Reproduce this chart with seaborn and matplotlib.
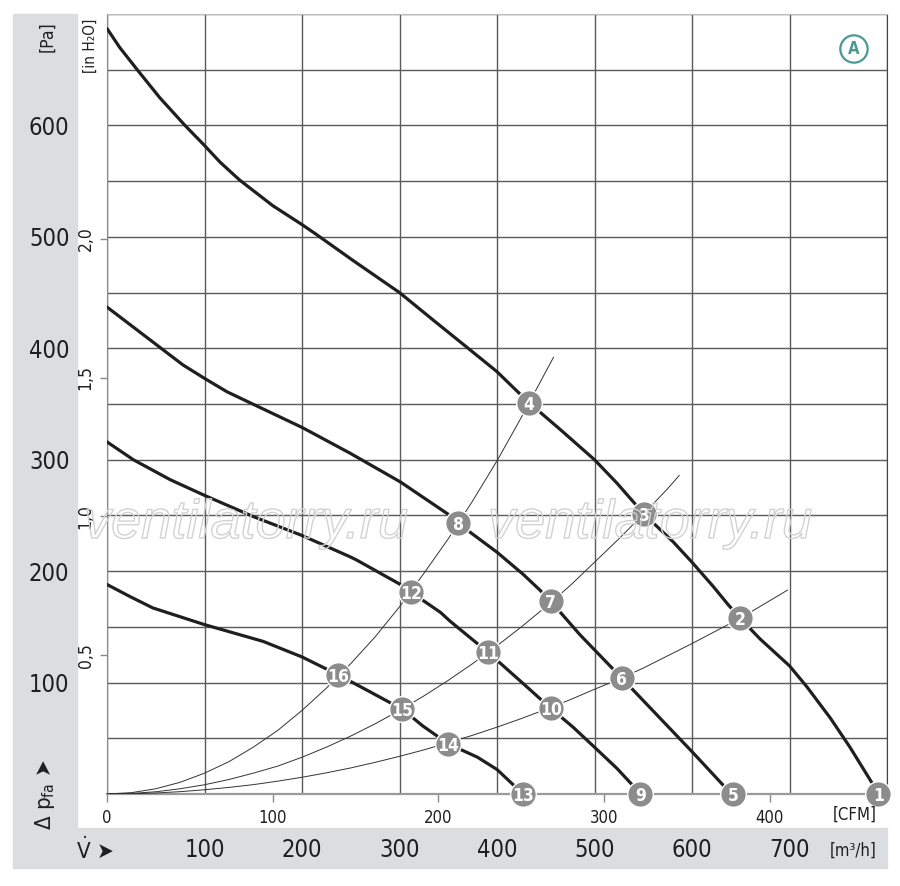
import numpy as np
import matplotlib
matplotlib.use("Agg")
import matplotlib.pyplot as plt
import matplotlib.patches as mpatches
import matplotlib.patheffects as pe
import seaborn as sns

# ── DATA (flow in m³/h, pressure in Pa) ───────────────────────────────────────
# fan curves, top to bottom
Q_A = [0, 13, 31, 54, 80, 100, 116, 136, 170, 200, 215, 252, 300, 335, 369, 400,
       433, 465, 500, 523, 551, 581, 600, 622, 637, 649, 670, 700, 718, 742, 762, 786, 791]
P_A = [687, 670, 650, 625, 600, 582, 567, 551, 528, 511, 502, 479, 450, 425, 401, 379,
       351, 327, 300, 279, 251, 226, 208, 186, 170, 158, 139, 115, 96, 68, 42, 8, 0]
Q_B = [0, 27, 54, 78, 100, 123, 147, 200, 249, 301, 350, 360, 400, 427, 444, 455,
       485, 528, 540, 564, 600, 634, 642]
P_B = [437, 419, 401, 385, 373, 361, 351, 329, 306, 280, 251, 243, 217, 197, 183, 173,
       143, 104, 93, 71, 38, 6, 0]
Q_C = [0, 27, 65, 100, 150, 200, 249, 256, 301, 312, 342, 352, 391, 400, 427, 455,
       478, 500, 523, 540, 547]
P_C = [316, 300, 282, 268, 249, 232, 213, 210, 188, 181, 163, 155, 127, 120, 99, 77,
       60, 42, 23, 7, 0]
Q_D = [0, 24, 47, 100, 160, 200, 237, 267, 303, 324, 350, 380, 400, 417, 427]
P_D = [188, 177, 167, 152, 137, 123, 107, 93, 76, 61, 45, 33, 22, 8, 0]

# system (resistance) curves, steep to shallow
SQ_1 = [0, 25, 50, 75, 100, 125, 150, 175, 200, 225, 250, 275, 300, 325, 350, 375,
        400, 425, 450, 458]
SP_1 = [0, 1.2, 4.7, 10.5, 18.7, 29, 42, 57, 75, 95, 117, 141, 168, 198, 229, 263,
        299, 338, 379, 392]
SQ_2 = [0, 25, 50, 75, 100, 125, 150, 175, 200, 225, 250, 275, 300, 325, 350, 375,
        400, 425, 450, 475, 500, 525, 550, 575, 587]
SP_2 = [0, 0.5, 2, 4.7, 8.3, 13, 18.7, 25, 33, 42, 52, 63, 75, 88, 102, 117,
        133, 150, 168, 187, 208, 229, 251, 274, 286]
SQ_3 = [0, 25, 50, 75, 100, 125, 150, 175, 200, 225, 250, 275, 300, 325, 350, 375,
        400, 425, 450, 475, 500, 525, 550, 575, 600, 625, 650, 675, 698]
SP_3 = [0, 0.2, 0.9, 2.1, 3.8, 5.9, 8.4, 11.5, 15, 19, 23.4, 28.4, 33.8, 39.6, 46, 52.7,
        60, 67.7, 76, 84.6, 94, 103, 113, 124, 135, 146.5, 158, 171, 183]

# numbered operating points
PT_LABELS = [str(i) for i in range(1, 17)]
PT_Q = [791, 649, 551, 433, 642, 528, 455, 360, 547, 455, 391, 312, 427, 350, 303, 237]
PT_P = [0, 158, 251, 351, 0, 104, 173, 243, 0, 77, 127, 181, 0, 45, 76, 107]

# axis ticks
M3H_TICKS = [0, 100, 200, 300, 400, 500, 600, 700, 800]
PA_TICKS = [0, 50, 100, 150, 200, 250, 300, 350, 400, 450, 500, 550, 600, 650, 700]
CFM_TICKS = [0, 100, 200, 300, 400]
CFM_LABELS = ["0", "100", "200", "300", "400"]
INH2O_TICKS = [0.5, 1.0, 1.5, 2.0]
INH2O_LABELS = ["0,5", "1,0", "1,5", "2,0"]
M3H_PER_CFM = 1.699
PA_PER_INH2O = 249.09

BAND = "#dcdddf"
INK = "#1f1f1f"
GRID = "#5a5a5a"
DOT = "#8c8c8c"
TEAL = "#4a9a94"

sns.set_style("white")
plt.rcParams["font.family"] = ["DejaVu Sans"]
plt.rcParams["font.stretch"] = "condensed"
plt.rcParams["mathtext.default"] = "regular"

W, H = 900, 886
fig = plt.figure(figsize=(W / 100, H / 100), dpi=100)
fig.patch.set_facecolor("white")


def fx(px):
    return px / W


def fy(py):
    return 1 - py / H


# grey bands (L shape)
fig.patches.append(mpatches.Rectangle((fx(13), fy(828)), 64 / W, (828 - 14) / H,
                                      transform=fig.transFigure, color=BAND, zorder=-5))
fig.patches.append(mpatches.Rectangle((fx(13), fy(868)), 874 / W, 40 / H,
                                      transform=fig.transFigure, color=BAND, zorder=-5))

ax = fig.add_axes([fx(107), fy(794), 780 / W, 780 / H])
ax.set_xlim(0, 800)
ax.set_ylim(0, 700)
ax.set_xticks(M3H_TICKS)
ax.set_yticks(PA_TICKS)
ax.set_xticklabels(["" if v in (0, 800) else str(v) for v in M3H_TICKS])
ax.set_yticklabels(["" if (v % 100 or v in (0, 700)) else str(v) for v in PA_TICKS])
ax.tick_params(axis="x", length=0, pad=32, labelsize=17, labelcolor=INK)
ax.tick_params(axis="y", length=0, pad=27, labelsize=17, labelcolor=INK)
ax.grid(True, color=GRID, lw=1.0)
ax.set_axisbelow(True)
ax.spines["top"].set_color("#bdbdbd")
ax.spines["right"].set_color("#444444")
ax.spines["left"].set_color("#8a8a8a")
ax.spines["bottom"].set_color("#9a9a9a")
ax.spines["bottom"].set_linewidth(1.6)
for s in ax.spines.values():
    s.set_visible(True)

# system curves
for q, p in [(SQ_1, SP_1), (SQ_2, SP_2), (SQ_3, SP_3)]:
    sns.lineplot(x=q, y=p, ax=ax, color="#333333", lw=0.7, sort=False, estimator=None, zorder=3)

# fan curves
for q, p in [(Q_A, P_A), (Q_B, P_B), (Q_C, P_C), (Q_D, P_D)]:
    sns.lineplot(x=q, y=p, ax=ax, color=INK, lw=2.3, sort=False, estimator=None, zorder=4,
                 solid_joinstyle="round", solid_capstyle="round")

# numbered points
sns.scatterplot(x=PT_Q, y=PT_P, ax=ax, s=340, color=DOT, edgecolor="white",
                linewidth=1.0, zorder=6, clip_on=False, legend=False)
for lbl, q, p in zip(PT_LABELS, PT_Q, PT_P):
    ax.text(q, p, lbl, ha="center", va="center_baseline", color="white",
            fontsize=12.5, fontweight="bold", zorder=7, clip_on=False)
ax.set_xlabel("")
ax.set_ylabel("")

# CFM scale under the plot
sec_x = ax.secondary_xaxis("bottom", functions=(lambda q: q / M3H_PER_CFM,
                                                 lambda c: c * M3H_PER_CFM))
sec_x.set_xticks(CFM_TICKS)
sec_x.set_xticklabels(CFM_LABELS)
sec_x.tick_params(length=6, width=1, color="#8a8a8a", pad=5, labelsize=12, labelcolor=INK)
sec_x.spines["bottom"].set_visible(False)

# in H2O scale inside the left margin
sec_y = ax.secondary_yaxis("left", functions=(lambda p: p / PA_PER_INH2O,
                                               lambda h: h * PA_PER_INH2O))
sec_y.set_yticks(INH2O_TICKS)
sec_y.set_yticklabels(INH2O_LABELS, rotation=90, va="center")
sec_y.tick_params(length=5, width=1, color="#8a8a8a", pad=4, labelsize=12.5, labelcolor=INK)
sec_y.spines["left"].set_visible(False)

# unit labels
fig.text(fx(47), fy(37), "[Pa]", rotation=90, ha="center", va="center", fontsize=12.5, color=INK)
fig.text(fx(90), fy(46), "[in H₂O]", rotation=90, ha="center", va="center", fontsize=11, color=INK)
fig.text(fx(855), fy(815), "[CFM]", ha="center", va="center", fontsize=12, color=INK)
fig.text(fx(853), fy(851), "[m³/h]", ha="center", va="center", fontsize=12, color=INK)
fig.text(fx(45), fy(794), "Δ p$_{fa}$ ➤", rotation=90, ha="center", va="center",
         fontsize=16, color=INK)
fig.text(fx(95), fy(850), r"$\dot{V}$ ➤", ha="center", va="center", fontsize=16, color=INK)

# circled A
fig.text(fx(854), fy(49), "A", ha="center", va="center", fontsize=12, fontweight="bold",
         color=TEAL, bbox=dict(boxstyle="circle,pad=0.28", fc="white", ec=TEAL, lw=1.6))

# watermark
for x0 in (84, 488):
    fig.text(fx(x0), fy(538), "ventilatorry.ru", ha="left", va="baseline", fontsize=39,
             family="Liberation Sans", style="italic", stretch="normal", color=(1, 1, 1, 0),
             zorder=10, path_effects=[pe.withStroke(linewidth=1.0, foreground="#d2d2d2")])

plt.savefig("out.png", dpi=100)
plt.close()
